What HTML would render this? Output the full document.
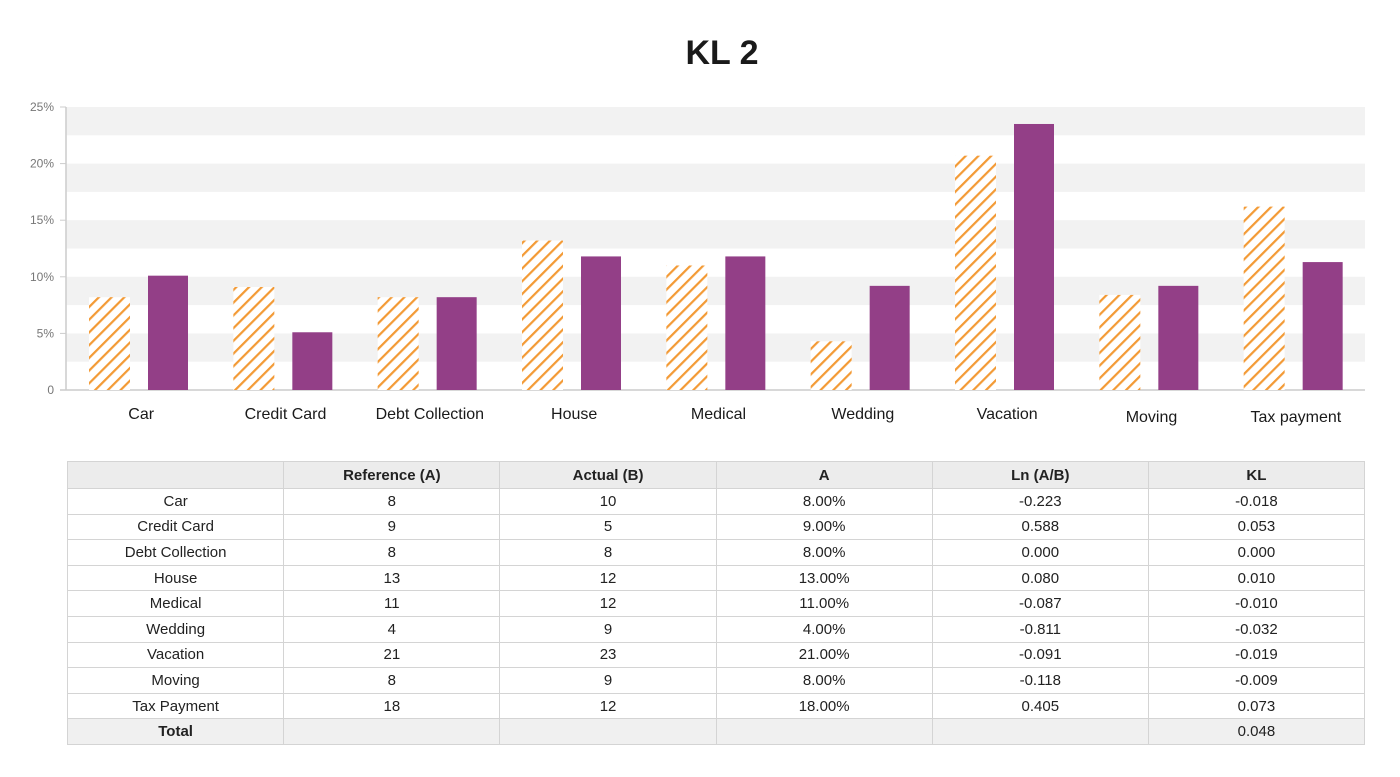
<!DOCTYPE html>
<html><head><meta charset="utf-8"><style>
body{margin:0;width:1400px;height:777px;background:#fff;font-family:"Liberation Sans",sans-serif;overflow:hidden;position:relative}
#title{position:absolute;left:0;width:1444px;top:34px;text-align:center;font-size:34px;font-weight:bold;color:#1a1a1a}
table{position:absolute;left:67px;top:461px;width:1298px;border-collapse:collapse;font-size:15px;color:#222}
td,th{border:1px solid #d4d4d4;text-align:center;height:24.6px;padding:0;width:216px}
th{background:#ececec;height:26px;font-weight:bold}
tr.total td{background:#f0f0f0}
</style></head><body>
<div id="title">KL 2</div>
<svg id="chart" width="1400" height="440" style="position:absolute;left:0;top:0">
<defs><pattern id="hatch" width="9" height="9" patternUnits="userSpaceOnUse" patternTransform="rotate(45)"><rect width="9" height="9" fill="#fff"/><rect x="0" y="0" width="2.2" height="9" fill="#f39a35"/></pattern></defs>
<g id="bands"></g><g id="axes"></g><g id="bars"></g><g id="labels"></g>
</svg>
<table>
<tr><th></th><th>Reference (A)</th><th>Actual (B)</th><th>A</th><th>Ln (A/B)</th><th>KL</th></tr>
<tr><td>Car</td><td>8</td><td>10</td><td>8.00%</td><td>-0.223</td><td>-0.018</td></tr>
<tr><td>Credit Card</td><td>9</td><td>5</td><td>9.00%</td><td>0.588</td><td>0.053</td></tr>
<tr><td>Debt Collection</td><td>8</td><td>8</td><td>8.00%</td><td>0.000</td><td>0.000</td></tr>
<tr><td>House</td><td>13</td><td>12</td><td>13.00%</td><td>0.080</td><td>0.010</td></tr>
<tr><td>Medical</td><td>11</td><td>12</td><td>11.00%</td><td>-0.087</td><td>-0.010</td></tr>
<tr><td>Wedding</td><td>4</td><td>9</td><td>4.00%</td><td>-0.811</td><td>-0.032</td></tr>
<tr><td>Vacation</td><td>21</td><td>23</td><td>21.00%</td><td>-0.091</td><td>-0.019</td></tr>
<tr><td>Moving</td><td>8</td><td>9</td><td>8.00%</td><td>-0.118</td><td>-0.009</td></tr>
<tr><td>Tax Payment</td><td>18</td><td>12</td><td>18.00%</td><td>0.405</td><td>0.073</td></tr>
<tr class="total"><td><b>Total</b></td><td></td><td></td><td></td><td></td><td>0.048</td></tr>
</table>
<script>
const categories=["Car","Credit Card","Debt Collection","House","Medical","Wedding","Vacation","Moving","Tax payment"];
const referenceVals=[8.2,9.1,8.2,13.2,11,4.3,20.7,8.4,16.2];
const actualVals=[10.1,5.1,8.2,11.8,11.8,9.2,23.5,9.2,11.3];
const yTicks=[0,5,10,15,20,25];
const yTickLabels=["0","5%","10%","15%","20%","25%"];
const NS="http://www.w3.org/2000/svg";
const x0=66,x1=1365,yBase=390,yTop=107,yMax=25;
const y=v=>yBase-(v/yMax)*(yBase-yTop);
const bw=(x1-x0)/categories.length;
function mk(t,a,p){const e=document.createElementNS(NS,t);for(const k in a)e.setAttribute(k,a[k]);p.appendChild(e);return e;}
const bands=document.getElementById('bands'),axes=document.getElementById('axes'),bars=document.getElementById('bars'),labels=document.getElementById('labels');
yTicks.forEach((t,i)=>{
 if(t>0){const b=mk('rect',{x:x0,y:y(t),width:x1-x0,height:y(t-2.5)-y(t),fill:'#f2f2f2'},bands);
 
 }
 const tx=mk('text',{x:54,y:y(t)+4,'text-anchor':'end','font-size':12,fill:'#777'},axes);tx.textContent=yTickLabels[i];
 
 
 mk('line',{x1:60,x2:66,y1:y(t),y2:y(t),stroke:'#ccc'},axes);
});
mk('line',{x1:x0,x2:x0,y1:yTop,y2:yBase,stroke:'#ccc','stroke-width':1.5},axes);
mk('line',{x1:60,x2:x1,y1:yBase,y2:yBase,stroke:'#ccc','stroke-width':1.5},axes);
categories.forEach((c,i)=>{
 const bx=x0+i*bw;
 const r=mk('rect',{x:bx+23,y:y(referenceVals[i]),width:41,height:yBase-y(referenceVals[i]),fill:'url(#hatch)'},bars);
 
 
 const a=mk('rect',{x:bx+82,y:y(actualVals[i]),width:40,height:yBase-y(actualVals[i]),fill:'#933f87'},bars);
 
 
 const l=mk('text',{x:bx+bw/2+3,y:(i>=7?422:419),'text-anchor':'middle','font-size':16,fill:'#1a1a1a'},labels);l.textContent=c;
 
 
});
</script>
</body></html>
